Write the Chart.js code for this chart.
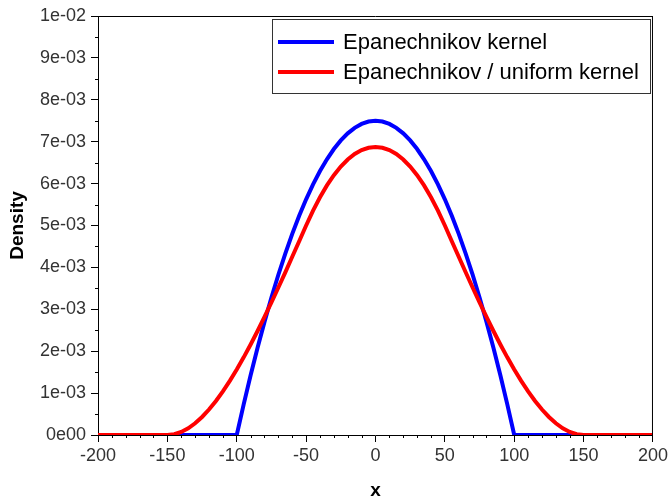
<!DOCTYPE html>
<html>
<head>
<meta charset="utf-8">
<script src="https://cdn.jsdelivr.net/npm/chart.js@4.4.1/dist/chart.umd.min.js"></script>
<style>
  html, body { margin: 0; padding: 0; background: #ffffff; }
  #wrap { width: 671px; height: 502px; position: relative; }
</style>
</head>
<body>
<div id="wrap"><canvas id="chart" width="671" height="502"></canvas></div>
<script>
// Sample positions along the x axis
const xValues = [
  -200, -195, -190, -185, -180, -175, -170, -165, -160, -155,
  -150, -145, -140, -135, -130, -125, -120, -115, -110, -105,
  -100, -95, -90, -85, -80, -75, -70, -65, -60, -55,
  -50, -45, -40, -35, -30, -25, -20, -15, -10, -5,
  0,
  5, 10, 15, 20, 25, 30, 35, 40, 45, 50,
  55, 60, 65, 70, 75, 80, 85, 90, 95, 100,
  105, 110, 115, 120, 125, 130, 135, 140, 145, 150,
  155, 160, 165, 170, 175, 180, 185, 190, 195, 200
];

// Epanechnikov kernel density
const epanechnikov = [
  0, 0, 0, 0, 0, 0, 0, 0, 0, 0,
  0, 0, 0, 0, 0, 0, 0, 0, 0, 0,
  0, 0.000731, 0.001425, 0.002081, 0.0027, 0.003281, 0.003825, 0.004331, 0.0048, 0.005231,
  0.005625, 0.005981, 0.0063, 0.006581, 0.006825, 0.007031, 0.0072, 0.007331, 0.007425, 0.007481,
  0.0075,
  0.007481, 0.007425, 0.007331, 0.0072, 0.007031, 0.006825, 0.006581, 0.0063, 0.005981, 0.005625,
  0.005231, 0.0048, 0.004331, 0.003825, 0.003281, 0.0027, 0.002081, 0.001425, 0.000731, 0,
  0, 0, 0, 0, 0, 0, 0, 0, 0, 0,
  0, 0, 0, 0, 0, 0, 0, 0, 0, 0
];

// Epanechnikov / uniform kernel density
const epanUniform = [
  0, 0, 0, 0, 0, 0, 0, 0, 0, 0,
  0, 0.000018, 0.000073, 0.00016, 0.00028, 0.00043, 0.000608, 0.000812, 0.00104, 0.001291,
  0.001563, 0.001853, 0.00216, 0.002482, 0.002818, 0.003164, 0.00352, 0.003883, 0.004253, 0.004625,
  0.005, 0.005356, 0.005675, 0.005956, 0.0062, 0.006406, 0.006575, 0.006706, 0.0068, 0.006856,
  0.006875,
  0.006856, 0.0068, 0.006706, 0.006575, 0.006406, 0.0062, 0.005956, 0.005675, 0.005356, 0.005,
  0.004625, 0.004253, 0.003883, 0.00352, 0.003164, 0.002818, 0.002482, 0.00216, 0.001853, 0.001563,
  0.001291, 0.00104, 0.000812, 0.000608, 0.00043, 0.00028, 0.00016, 0.000073, 0.000018, 0,
  0, 0, 0, 0, 0, 0, 0, 0, 0, 0
];

// Y axis tick labels, from 0 upward in steps of 1e-03
const yTickLabels = [
  '0e00', '1e-03', '2e-03', '3e-03', '4e-03', '5e-03',
  '6e-03', '7e-03', '8e-03', '9e-03', '1e-02'
];

const seriesNames = ['Epanechnikov kernel', 'Epanechnikov / uniform kernel'];
const seriesColors = ['#0000ff', '#ff0000'];

const FONT = "'Liberation Sans', Arial, sans-serif";

function toPoints(ys) {
  return xValues.map((x, i) => ({ x: x, y: ys[i] }));
}

// Frame lines, minor ticks and the boxed legend
const decorations = {
  id: 'decorations',
  afterDraw(chart) {
    const ctx = chart.ctx;
    const area = chart.chartArea;
    const xs = chart.scales.x;
    const ys = chart.scales.y;
    ctx.save();

    // top and right frame lines
    ctx.strokeStyle = '#000000';
    ctx.lineWidth = 1;
    ctx.beginPath();
    ctx.moveTo(area.left, area.top + 0.5);
    ctx.lineTo(area.right, area.top + 0.5);
    ctx.moveTo(area.right - 0.5, area.top);
    ctx.lineTo(area.right - 0.5, area.bottom);
    ctx.stroke();

    // minor ticks
    ctx.beginPath();
    for (let v = -200; v <= 200; v += 10) {
      if (v % 50 === 0) continue;
      const px = Math.round(xs.getPixelForValue(v)) + 0.5;
      ctx.moveTo(px, area.bottom);
      ctx.lineTo(px, area.bottom + 3);
    }
    for (let k = 0; k < 10; k++) {
      const py = Math.round(ys.getPixelForValue(k * 0.001 + 0.0005)) + 0.5;
      ctx.moveTo(area.left - 3, py);
      ctx.lineTo(area.left, py);
    }
    ctx.stroke();

    // legend box
    const bx = 272, by = 19, bw = 378, bh = 74;
    ctx.fillStyle = '#ffffff';
    ctx.fillRect(bx, by, bw, bh);
    ctx.strokeStyle = '#333333';
    ctx.lineWidth = 1;
    ctx.strokeRect(bx + 0.5, by + 0.5, bw, bh);

    ctx.font = '22px ' + FONT;
    ctx.textBaseline = 'middle';
    ctx.textAlign = 'left';
    const rows = [42, 72];
    seriesNames.forEach((name, i) => {
      ctx.strokeStyle = seriesColors[i];
      ctx.lineWidth = 4;
      ctx.beginPath();
      ctx.moveTo(278, rows[i]);
      ctx.lineTo(334, rows[i]);
      ctx.stroke();
      ctx.fillStyle = '#000000';
      ctx.fillText(name, 343, rows[i] + 1);
    });
    ctx.restore();
  }
};

new Chart(document.getElementById('chart'), {
  type: 'line',
  data: {
    datasets: [
      {
        label: seriesNames[0],
        data: toPoints(epanechnikov),
        borderColor: seriesColors[0],
        borderWidth: 4,
        pointRadius: 0,
        tension: 0,
        order: 1
      },
      {
        label: seriesNames[1],
        data: toPoints(epanUniform),
        borderColor: seriesColors[1],
        borderWidth: 4,
        pointRadius: 0,
        tension: 0,
        order: 0
      }
    ]
  },
  options: {
    responsive: false,
    animation: false,
    events: [],
    layout: { padding: { top: 16, right: 15, left: 0, bottom: 0 } },
    plugins: {
      legend: { display: false },
      tooltip: { enabled: false }
    },
    scales: {
      x: {
        type: 'linear',
        min: -200,
        max: 200,
        afterFit(scale) { scale.height = 67; },
        border: { display: true, color: '#000000', width: 1 },
        grid: { display: true, drawOnChartArea: false, drawTicks: true, tickLength: 7, color: '#000000' },
        ticks: {
          stepSize: 50,
          color: '#333333',
          padding: 3,
          maxRotation: 0,
          font: { family: FONT, size: 18 },
          callback: (v) => String(v)
        },
        title: {
          display: true,
          text: 'x',
          color: '#000000',
          font: { family: FONT, size: 19, weight: 'bold' },
          padding: { top: 0, bottom: 0 }
        }
      },
      y: {
        type: 'linear',
        min: 0,
        max: 0.01,
        afterFit(scale) { scale.width = 98; },
        border: { display: true, color: '#000000', width: 1 },
        grid: { display: true, drawOnChartArea: false, drawTicks: true, tickLength: 7, color: '#000000' },
        ticks: {
          stepSize: 0.001,
          color: '#333333',
          padding: 5,
          font: { family: FONT, size: 18 },
          callback: (v) => yTickLabels[Math.round(v * 1000)]
        },
        title: {
          display: true,
          text: 'Density',
          color: '#000000',
          font: { family: FONT, size: 19, weight: 'bold' },
          padding: { top: 6, bottom: 0 }
        }
      }
    }
  },
  plugins: [decorations]
});
</script>
</body>
</html>
